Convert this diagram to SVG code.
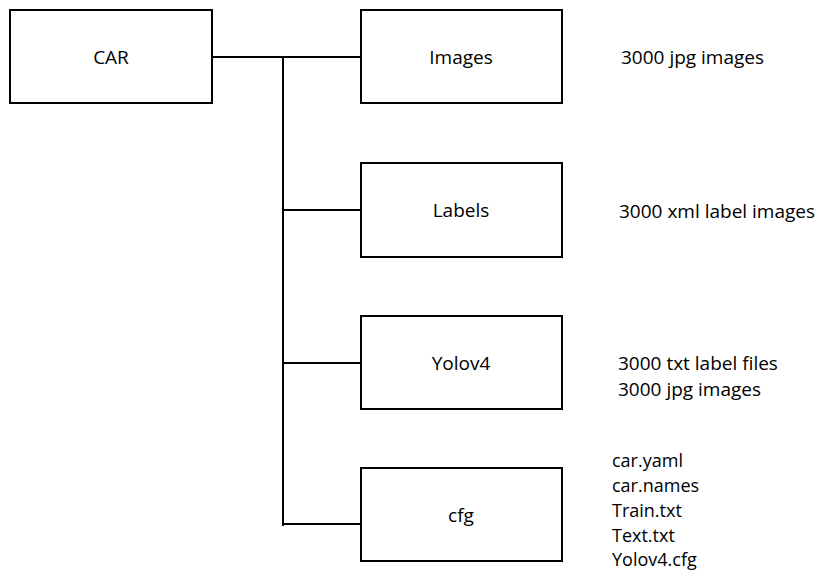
<svg xmlns="http://www.w3.org/2000/svg" width="816" height="573" viewBox="0 0 816 573">
<style>
.box{fill:#fff;stroke:#000;stroke-width:2}
.c{stroke:#000;stroke-width:2;fill:none}
text{font-family:"Open Sans","Liberation Sans",sans-serif;font-size:19px;fill:#000}
.m{text-anchor:middle}
.l{font-size:18px}
</style>
<rect width="816" height="573" fill="#fff"/>
<g id="connectors">
<line class="c" x1="212" y1="57" x2="361" y2="57"/>
<line class="c" x1="283" y1="57" x2="283" y2="526"/>
<line class="c" x1="283" y1="210" x2="361" y2="210"/>
<line class="c" x1="283" y1="363" x2="361" y2="363"/>
<line class="c" x1="283" y1="524" x2="361" y2="524"/>
</g>
<g id="car"><rect class="box" x="10" y="10" width="202" height="93"/><text class="m" x="111" y="64">CAR</text></g>
<g id="images"><rect class="box" x="361" y="10" width="201" height="93"/><text class="m" x="461" y="64">Images</text></g>
<g id="labels"><rect class="box" x="361" y="163" width="201" height="94"/><text class="m" x="461" y="217">Labels</text></g>
<g id="yolov4"><rect class="box" x="361" y="316" width="201" height="93"/><text class="m" x="461" y="370">Yolov4</text></g>
<g id="cfg"><rect class="box" x="361" y="468" width="201" height="93"/><text class="m" x="461" y="522">cfg</text></g>
<g id="notes">
<text x="621" y="64">3000 jpg images</text>
<text x="619" y="218">3000 xml label images</text>
<text x="618" y="370">3000 txt label files</text>
<text x="618" y="396">3000 jpg images</text>
<text class="l" x="612" y="467">car.yaml</text>
<text class="l" x="612" y="492">car.names</text>
<text class="l" x="612" y="517">Train.txt</text>
<text class="l" x="612" y="542">Text.txt</text>
<text class="l" x="612" y="566">Yolov4.cfg</text>
</g>
</svg>
